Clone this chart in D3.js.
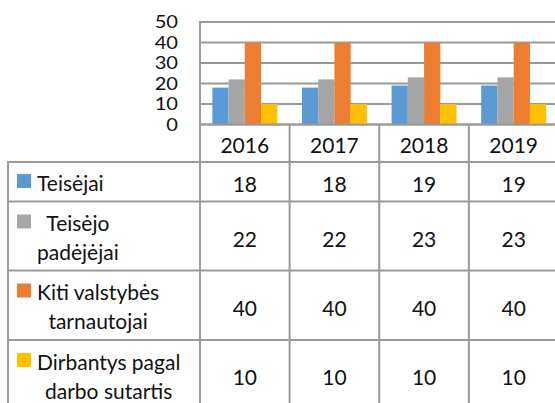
<!DOCTYPE html>
<html>
<head>
<meta charset="utf-8">
<script src="https://cdn.jsdelivr.net/npm/d3@7/dist/d3.min.js"></script>
<style>
  body { margin: 0; background: #fff; }
  svg { display: block; font-family: Lato, "Open Sans", sans-serif; }
</style>
</head>
<body>
<div id="chart-area"></div>
<script>
// data
var years = ["2016", "2017", "2018", "2019"];
var seriesNames = ["Teisėjai", "Teisėjo\npadėjėjai", "Kiti valstybės\ntarnautojai", "Dirbantys pagal\ndarbo sutartis"];
var teisejai = [18, 18, 19, 19];
var padejejai = [22, 22, 23, 23];
var tarnautojai = [40, 40, 40, 40];
var sutartis = [10, 10, 10, 10];
var yTicks = [0, 10, 20, 30, 40, 50];

var seriesValues = [teisejai, padejejai, tarnautojai, sutartis];
var colors = ["#5b9bd5", "#a5a5a5", "#ed7d31", "#ffc000"];
var gridColor = "#9a9a9a";

var width = 555, height = 403;

var svg = d3.select("#chart-area")
    .append("svg")
        .attr("width", width)
        .attr("height", height);

var x = d3.scaleBand()
    .domain(years)
    .range([200, 558.5]);

var xs = d3.scaleBand()
    .domain(d3.range(seriesValues.length))
    .range([0, x.bandwidth()])
    .paddingInner(0)
    .paddingOuter(0.76);

var y = d3.scaleLinear()
    .domain([0, 50])
    .range([124.5, 22]);

// gridlines
svg.append("g")
    .selectAll("line")
    .data(yTicks)
    .enter()
    .append("line")
        .attr("x1", 200)
        .attr("x2", width)
        .attr("y1", function(d){ return y(d); })
        .attr("y2", function(d){ return y(d); })
        .attr("stroke", gridColor)
        .attr("stroke-width", 2);

// y axis labels (slightly stretched, like the original)
var yAxisCall = d3.axisLeft(y)
    .tickValues(yTicks)
    .tickSize(0)
    .tickPadding(0);
var yAxis = svg.append("g")
    .attr("transform", "translate(178, 0) scale(1.22, 1)")
    .call(yAxisCall);
yAxis.select(".domain").remove();
yAxis.selectAll("text")
    .attr("font-family", "Lato, sans-serif")
    .attr("font-size", "16.5px")
    .attr("fill", "#111")
    .attr("dy", "0.36em");

// bars
var barData = [];
years.forEach(function(yr, i){
    seriesValues.forEach(function(vals, s){
        barData.push({ year: yr, s: s, value: vals[i] });
    });
});

svg.append("g")
    .selectAll("rect")
    .data(barData)
    .enter()
    .append("rect")
        .attr("x", function(d){ return x(d.year) + xs(d.s); })
        .attr("y", function(d){ return y(d.value); })
        .attr("width", xs.bandwidth())
        .attr("height", function(d){ return y(0) - y(d.value); })
        .attr("fill", function(d){ return colors[d.s]; });

// redraw zero line over bars
svg.append("line")
    .attr("x1", 200).attr("x2", width)
    .attr("y1", y(0)).attr("y2", y(0))
    .attr("stroke", gridColor)
    .attr("stroke-width", 2);

// data table
var tableTop = 162;
var rowHeights = [39.5, 69, 69.5, 69];
var rowTops = [];
var acc = tableTop;
rowHeights.forEach(function(h){ rowTops.push(acc); acc += h; });

var grid = svg.append("g")
    .attr("stroke", gridColor)
    .attr("stroke-width", 2);

// horizontal rules
grid.selectAll(".hrule")
    .data(rowTops)
    .enter()
    .append("line")
        .attr("class", "hrule")
        .attr("x1", 8)
        .attr("x2", width)
        .attr("y1", function(d){ return d; })
        .attr("y2", function(d){ return d; });

// left border and axis
grid.append("line")
    .attr("x1", 8).attr("x2", 8)
    .attr("y1", tableTop - 1).attr("y2", height);
grid.append("line")
    .attr("x1", 200).attr("x2", 200)
    .attr("y1", y(50) - 1).attr("y2", height);

// category dividers
grid.selectAll(".vrule")
    .data(years.slice(1))
    .enter()
    .append("line")
        .attr("class", "vrule")
        .attr("x1", function(d){ return x(d); })
        .attr("x2", function(d){ return x(d); })
        .attr("y1", y(0))
        .attr("y2", height);

// year labels
svg.append("g")
    .selectAll("text")
    .data(years)
    .enter()
    .append("text")
        .attr("x", function(d){ return x(d) + x.bandwidth() / 2; })
        .attr("y", 153)
        .attr("text-anchor", "middle")
        .attr("font-size", "21px")
        .attr("fill", "#111")
        .text(function(d){ return d; });

// rows
seriesNames.forEach(function(name, s){
    var top = rowTops[s];
    var mid = top + rowHeights[s] / 2;
    var lines = name.split("\n");

    // legend key
    svg.append("rect")
        .attr("x", 17)
        .attr("y", lines.length > 1 ? top + 13 : top + 12)
        .attr("width", 14)
        .attr("height", 14)
        .attr("fill", colors[s]);

    var label = svg.append("g");
    var texts = label.selectAll("text")
        .data(lines)
        .enter()
        .append("text")
            .attr("y", function(d, i){ return mid + 9.5 - 14.5 * (lines.length - 1) + 29 * i; })
            .attr("text-anchor", "middle")
            .attr("font-size", "21px")
            .attr("fill", "#111")
            .text(function(d){ return d; });
    var maxW = d3.max(texts.nodes(), function(n){ return n.getComputedTextLength(); });
    texts.attr("x", 37 + maxW / 2);

    // values
    svg.append("g")
        .selectAll("text")
        .data(years)
        .enter()
        .append("text")
            .attr("x", function(d){ return x(d) + x.bandwidth() / 2; })
            .attr("y", mid + 10.5)
            .attr("text-anchor", "middle")
            .attr("font-size", "21px")
            .attr("fill", "#111")
            .text(function(d, i){ return seriesValues[s][i]; });
});
</script>
</body>
</html>
